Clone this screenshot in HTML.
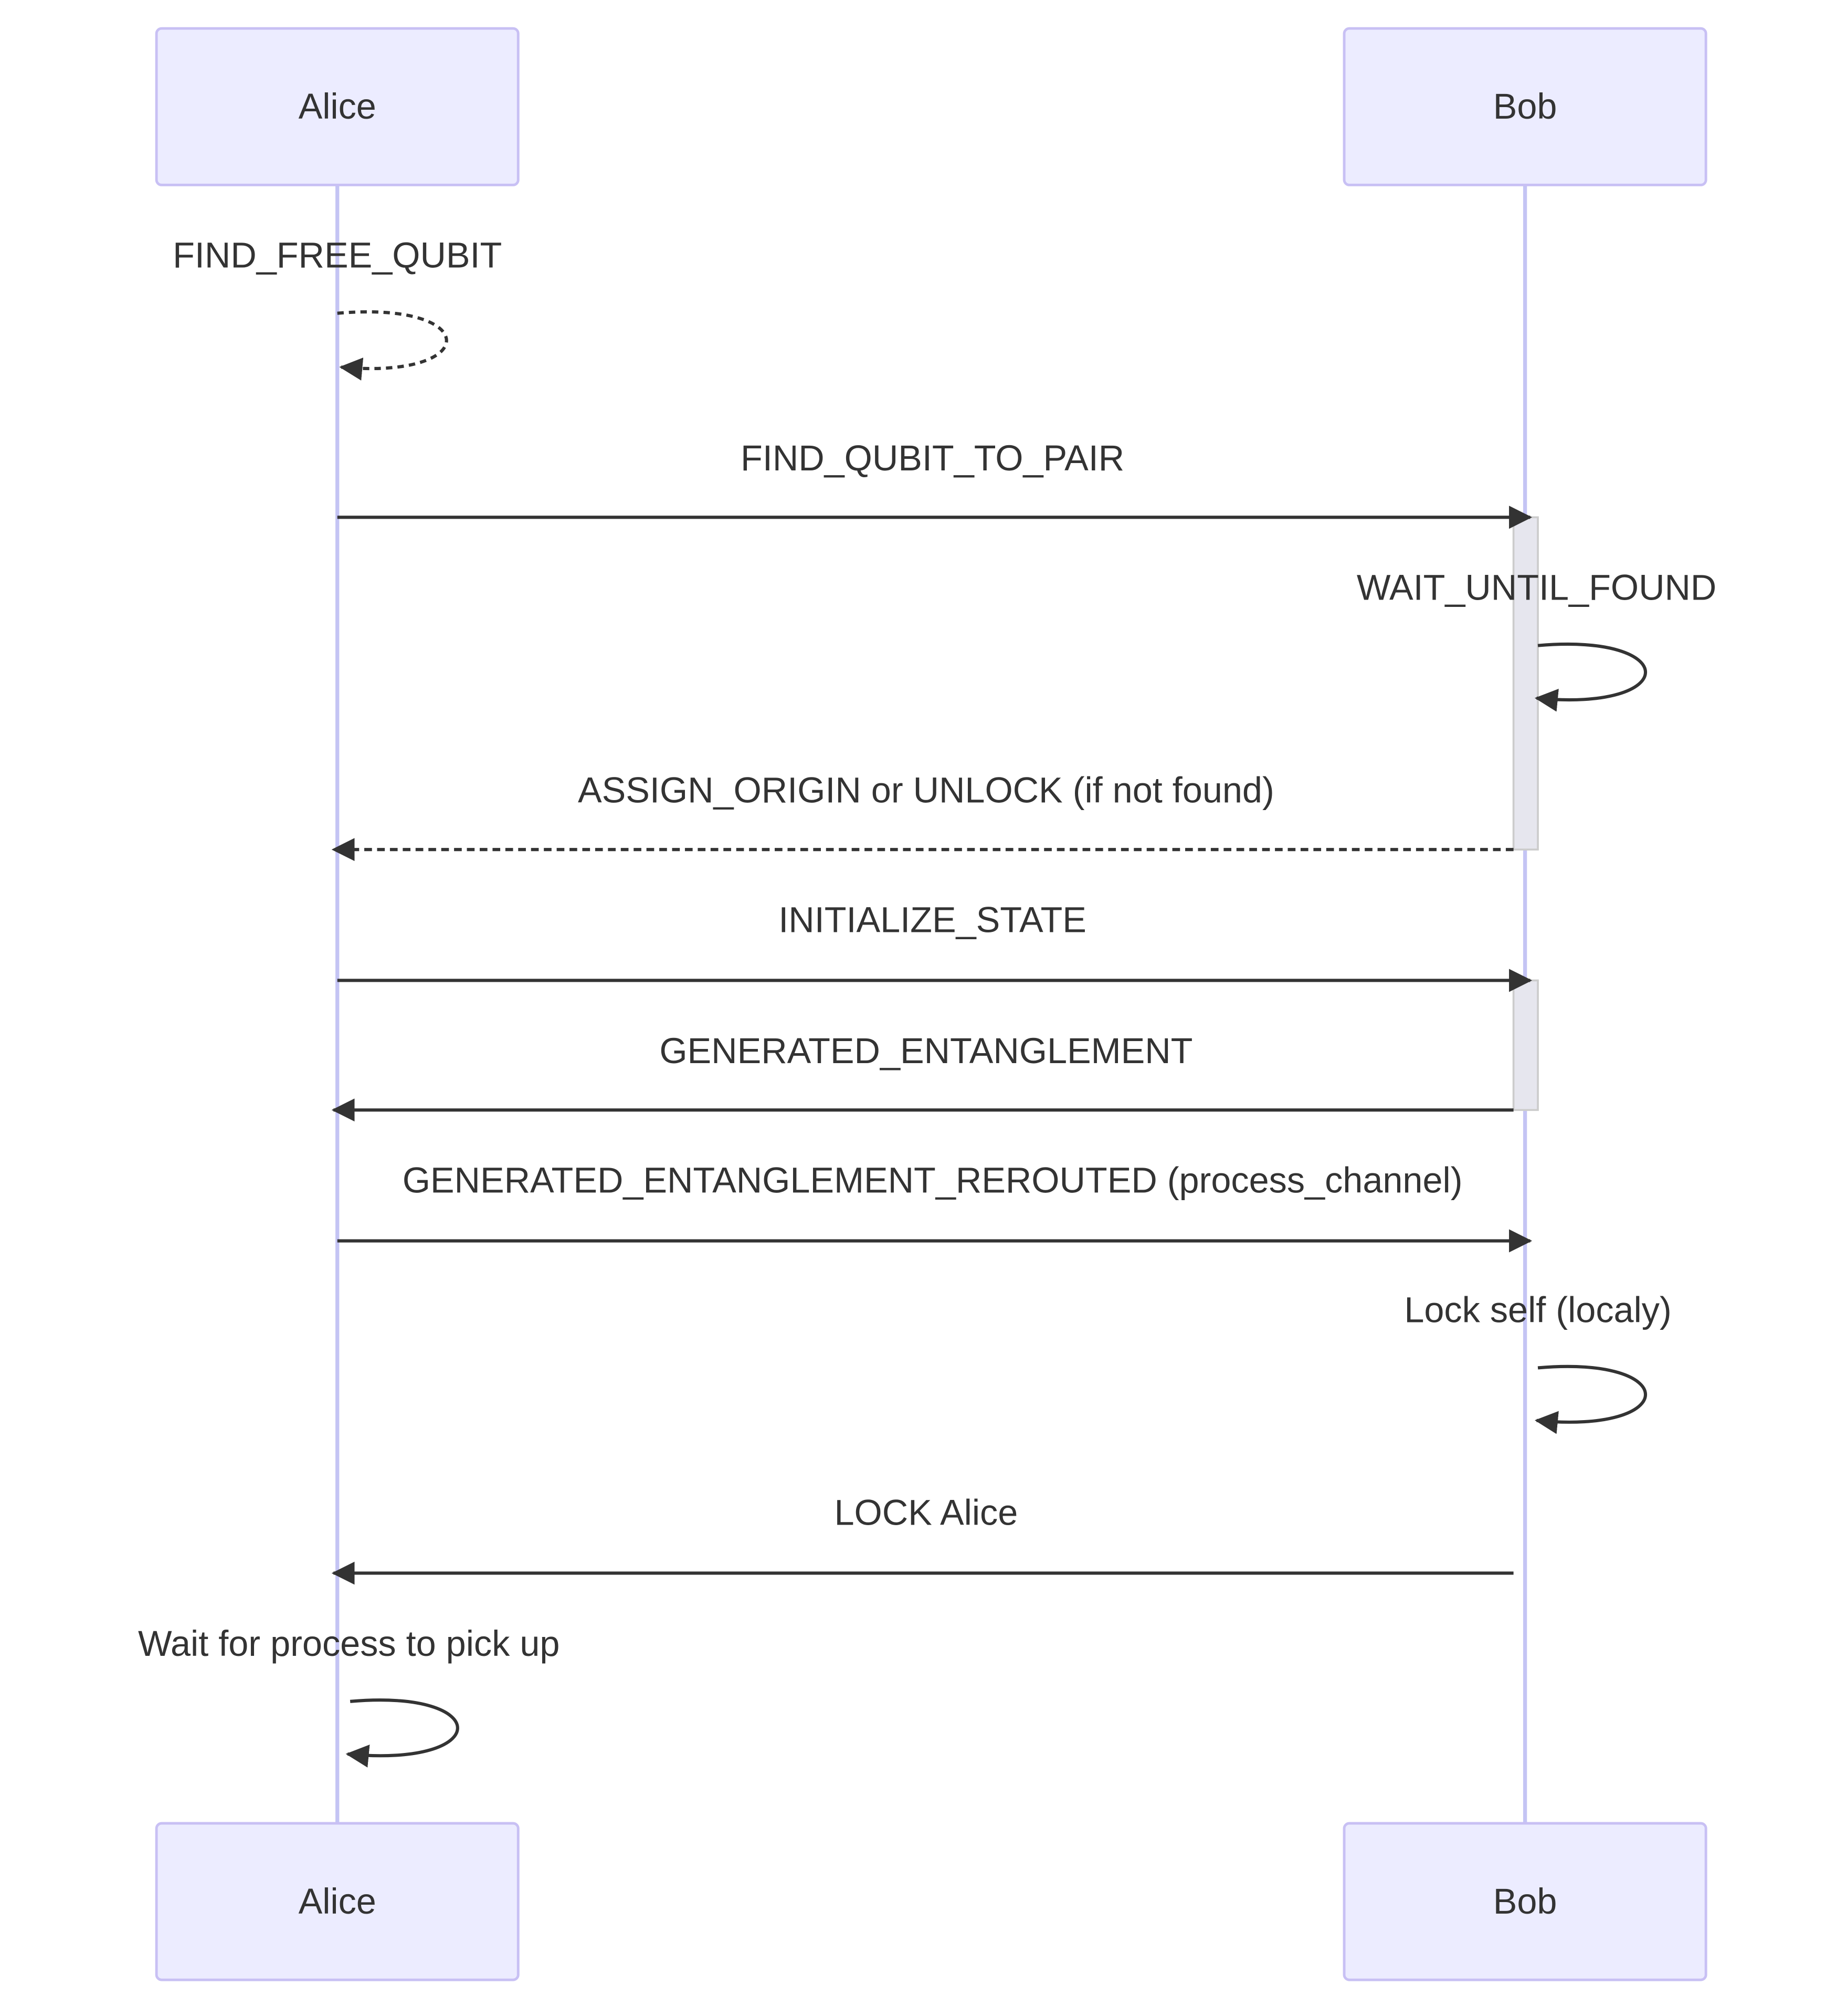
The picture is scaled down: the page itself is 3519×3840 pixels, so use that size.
<!DOCTYPE html>
<html><head><meta charset="utf-8"><style>
html,body{margin:0;padding:0;background:#fff;}
svg{display:block;}
text{font-family:"Liberation Sans","DejaVu Sans",sans-serif;font-size:28px;fill:#333;text-anchor:middle;dominant-baseline:middle;}
</style></head><body>
<svg width="3519" height="3840" viewBox="0 0 1440 1571" xmlns="http://www.w3.org/2000/svg">
<defs>
<marker id="ah" viewBox="0 0 12 12" refX="11" refY="6" markerWidth="18" markerHeight="18" markerUnits="userSpaceOnUse" orient="auto">
<path d="M0,0 L12,6 L0,12 z" fill="#333"/>
</marker>
</defs>
<rect width="1440" height="1571" fill="#fff"/>
<line x1="263" y1="144" x2="263" y2="1421" stroke="#c4c4f4" stroke-width="3"/>
<line x1="1189" y1="144" x2="1189" y2="1421" stroke="#c4c4f4" stroke-width="3"/>
<g fill="#ECECFF" stroke="#c8c0f4" stroke-width="2">
<rect x="122" y="22" width="282" height="122" rx="4"/>
<rect x="1048" y="22" width="282" height="122" rx="4"/>
<rect x="122" y="1421" width="282" height="122" rx="4"/>
<rect x="1048" y="1421" width="282" height="122" rx="4"/>
</g>
<text x="263" y="85">Alice</text>
<text x="1189" y="85">Bob</text>
<text x="263" y="1484">Alice</text>
<text x="1189" y="1484">Bob</text>
<rect x="1180" y="403" width="19" height="259" fill="#e6e6ee" stroke="#cccccc" stroke-width="1.5"/>
<rect x="1180" y="764" width="19" height="101" fill="#e6e6ee" stroke="#cccccc" stroke-width="1.5"/>
<g stroke="#333" stroke-width="2.5" fill="none">
<path d="M263,244 C376,234 376,296 266,286" stroke-dasharray="5,4" marker-end="url(#ah)"/>
<line x1="263" y1="403" x2="1193" y2="403" marker-end="url(#ah)"/>
<path d="M1199,503 C1311,493 1311,555 1198,544" marker-end="url(#ah)"/>
<line x1="1180" y1="662" x2="260" y2="662" stroke-dasharray="6,4" marker-end="url(#ah)"/>
<line x1="263" y1="764" x2="1193" y2="764" marker-end="url(#ah)"/>
<line x1="1180" y1="865" x2="260" y2="865" marker-end="url(#ah)"/>
<line x1="263" y1="967" x2="1193" y2="967" marker-end="url(#ah)"/>
<path d="M1199,1066 C1311,1056 1311,1118 1198,1107" marker-end="url(#ah)"/>
<line x1="1180" y1="1226" x2="260" y2="1226" marker-end="url(#ah)"/>
<path d="M273,1326 C385,1316 385,1378 271,1367" marker-end="url(#ah)"/>
</g>
<text x="263" y="201">FIND_FREE_QUBIT</text>
<text x="727" y="359">FIND_QUBIT_TO_PAIR</text>
<text x="1198" y="460">WAIT_UNTIL_FOUND</text>
<text x="722" y="618">ASSIGN_ORIGIN or UNLOCK (if not found)</text>
<text x="727" y="719">INITIALIZE_STATE</text>
<text x="722" y="821">GENERATED_ENTANGLEMENT</text>
<text x="727" y="922">GENERATED_ENTANGLEMENT_REROUTED (process_channel)</text>
<text x="1199" y="1023">Lock self (localy)</text>
<text x="722" y="1181">LOCK Alice</text>
<text x="272" y="1283">Wait for process to pick up</text>
</svg>
</body></html>
